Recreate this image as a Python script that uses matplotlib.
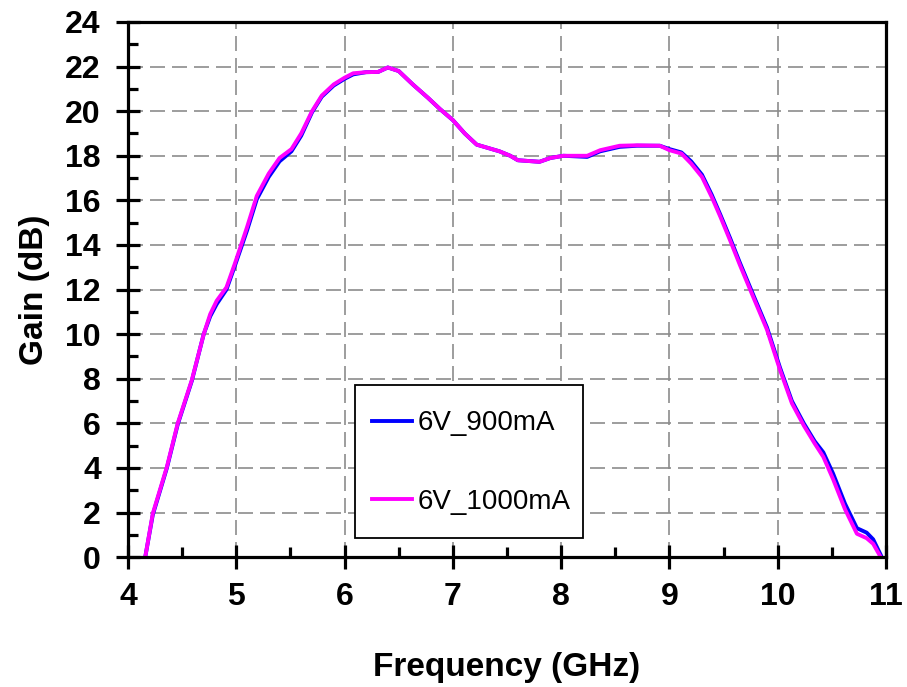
import matplotlib
matplotlib.use("Agg")
import matplotlib.pyplot as plt
from matplotlib.patches import Rectangle
from matplotlib.ticker import MultipleLocator

# frequency points (GHz)
freq = [4.16, 4.23, 4.36, 4.46, 4.59, 4.70, 4.76, 4.82, 4.91, 4.99, 5.10, 5.19, 5.30,
        5.40, 5.51, 5.60, 5.70, 5.79, 5.90, 6.00, 6.08, 6.20, 6.31, 6.40, 6.50,
        6.63, 6.77, 6.88, 7.00, 7.11, 7.22, 7.43, 7.53, 7.60, 7.80, 7.90, 8.02,
        8.24, 8.36, 8.54, 8.70, 8.91, 9.00, 9.11, 9.20, 9.30, 9.39, 9.47, 9.56,
        9.65, 9.77, 9.90, 10.02, 10.13, 10.24, 10.34, 10.42, 10.51, 10.62, 10.73,
        10.82, 10.88, 10.95]

# gain, 6V 900mA (dB)
gain_900 = [0.0, 1.9, 4.0, 5.95, 7.9, 10.0, 10.8, 11.35, 12.0, 13.1, 14.65, 16.05, 17.05,
            17.75, 18.2, 18.9, 19.95, 20.65, 21.15, 21.45, 21.65, 21.75, 21.76, 21.96, 21.8,
            21.2, 20.6, 20.1, 19.6, 19.0, 18.5, 18.2, 18.0, 17.8, 17.73, 17.9, 18.0,
            17.95, 18.2, 18.4, 18.45, 18.45, 18.3, 18.15, 17.75, 17.15, 16.25, 15.35, 14.3,
            13.2, 11.8, 10.3, 8.5, 7.0, 6.0, 5.2, 4.7, 3.75, 2.4, 1.3,
            1.1, 0.8, 0.1]

# gain, 6V 1000mA (dB)
gain_1000 = [0.0, 1.96, 4.05, 6.0, 7.94, 10.0, 10.9, 11.5, 12.1, 13.2, 14.8, 16.2, 17.2,
             17.9, 18.3, 19.0, 20.0, 20.7, 21.2, 21.5, 21.7, 21.75, 21.76, 21.96, 21.8,
             21.2, 20.6, 20.1, 19.6, 19.0, 18.5, 18.2, 18.0, 17.8, 17.73, 17.9, 18.0,
             18.0, 18.25, 18.45, 18.47, 18.45, 18.25, 18.1, 17.65, 17.05, 16.15, 15.26, 14.2,
             13.1, 11.7, 10.2, 8.4, 6.9, 5.9, 5.1, 4.5, 3.5, 2.15, 1.05,
             0.85, 0.6, 0.0]

labels = ["6V_900mA", "6V_1000mA"]

plt.rcParams["font.family"] = ["Liberation Sans", "DejaVu Sans"]

fig = plt.figure(figsize=(9.07, 6.87), dpi=100)
ax = fig.add_axes([0.141, 0.189, 0.836, 0.779])

ax.plot(freq, gain_900, color="#0000ff", lw=2.8, label=labels[0])
ax.plot(freq, gain_1000, color="#ff00ff", lw=2.8, label=labels[1])

ax.set_xlim(4, 11)
ax.set_ylim(0, 24)
ax.xaxis.set_major_locator(MultipleLocator(1))
ax.xaxis.set_minor_locator(MultipleLocator(0.5))
ax.yaxis.set_major_locator(MultipleLocator(2))
ax.yaxis.set_minor_locator(MultipleLocator(1))

ax.grid(True, which="major", color="#8c8c8c", lw=1.2, linestyle=(0, (9, 4.2)))
ax.set_axisbelow(True)

for s in ax.spines.values():
    s.set_linewidth(2.3)

ax.tick_params(which="major", direction="inout", length=17, width=2.3, labelsize=23)
ax.tick_params(axis="x", which="major", pad=9.5)
ax.tick_params(axis="y", which="major", pad=11)
ax.tick_params(which="minor", direction="in", length=7, width=2.3)
for t in ax.get_xticklabels() + ax.get_yticklabels():
    t.set_fontweight("bold")

ax.set_xlabel("Frequency (GHz)", fontsize=24, fontweight="bold", labelpad=29)
ax.set_ylabel("Gain (dB)", fontsize=24, fontweight="bold", labelpad=11)

# legend box (axes fraction)
box_x, box_y, box_w, box_h = 0.2995, 0.0355, 0.3008, 0.286
ax.add_patch(Rectangle((box_x, box_y), box_w, box_h, transform=ax.transAxes,
                       facecolor="white", edgecolor="black", lw=1.3, zorder=4))
leg = ax.legend(loc="upper left", bbox_to_anchor=(box_x, box_y + box_h - 0.016),
                borderaxespad=0, fontsize=20, handlelength=1.45, handletextpad=0.2,
                labelspacing=1.9, borderpad=0.6, frameon=False)
leg.set_zorder(5)

fig.savefig("out.png", dpi=100)
